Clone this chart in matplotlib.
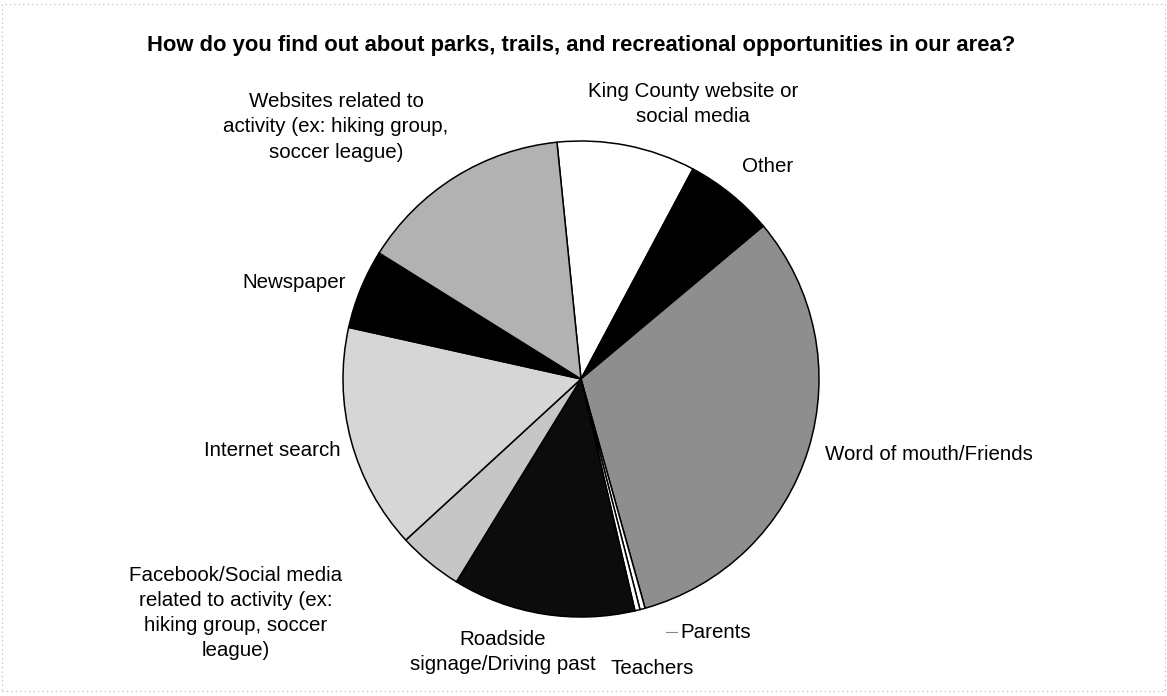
import matplotlib
matplotlib.use("Agg")
import matplotlib.pyplot as plt
from matplotlib.patches import Rectangle

plt.rcParams['font.family'] = ['Liberation Sans', 'DejaVu Sans']

# ---- data (percent of responses), clockwise from top ----
categories = [
    "King County website or\nsocial media",
    "Other",
    "Word of mouth/Friends",
    "Parents",
    "Teachers",
    "Roadside\nsignage/Driving past",
    "Facebook/Social media\nrelated to activity (ex:\nhiking group, soccer\nleague)",
    "Internet search",
    "Newspaper",
    "Websites related to\nactivity (ex: hiking group,\nsoccer league)",
]
values = [9.4, 6.1, 31.75, 0.35, 0.35, 12.4, 4.4, 15.3, 5.4, 14.5]
colors = ['#ffffff', '#000000', '#8e8e8e', '#ffffff', '#ffffff',
          '#0c0c0c', '#c6c6c6', '#d6d6d6', '#000000', '#b2b2b2']
title = "How do you find out about parks, trails, and recreational opportunities in our area?"

W, H = 1167, 696
fig = plt.figure(figsize=(W / 100, H / 100), dpi=100)
ax = fig.add_axes([0, 0, 1, 1])

cx, cy, r = 581, H - 379, 238
ax.pie(values, colors=colors, startangle=95.8, counterclock=False,
       center=(cx, cy), radius=r,
       wedgeprops=dict(edgecolor='black', linewidth=1.1))
ax.set_xlim(0, W)
ax.set_ylim(0, H)
ax.set_aspect('equal')
ax.axis('off')

# label positions (pixel centres, y from top)
label_pos = [
    (693, 104), (768, 166), (929, 455), (716, 632), (652, 668),
    (503, 652), (236, 613), (272, 451), (294, 283), (336, 127),
]
for lab, (x, y) in zip(categories, label_pos):
    ax.text(x, H - y, lab, ha='center', va='center', fontsize=14.8,
            linespacing=1.42, color='black')

# leader line for Parents
ax.plot([666, 677], [H - 632, H - 632], color='#888888', lw=0.8)

ax.text(W / 2 - 2, H - 45, title, ha='center', va='center',
        fontsize=15.8, fontweight='bold')

# faint scanned frame
ax.add_patch(Rectangle((2, 5), W - 4, H - 9, fill=False, ec='#b0b0b0',
                       lw=0.8, ls=(0, (1, 3))))

fig.savefig('out.png', dpi=100)
